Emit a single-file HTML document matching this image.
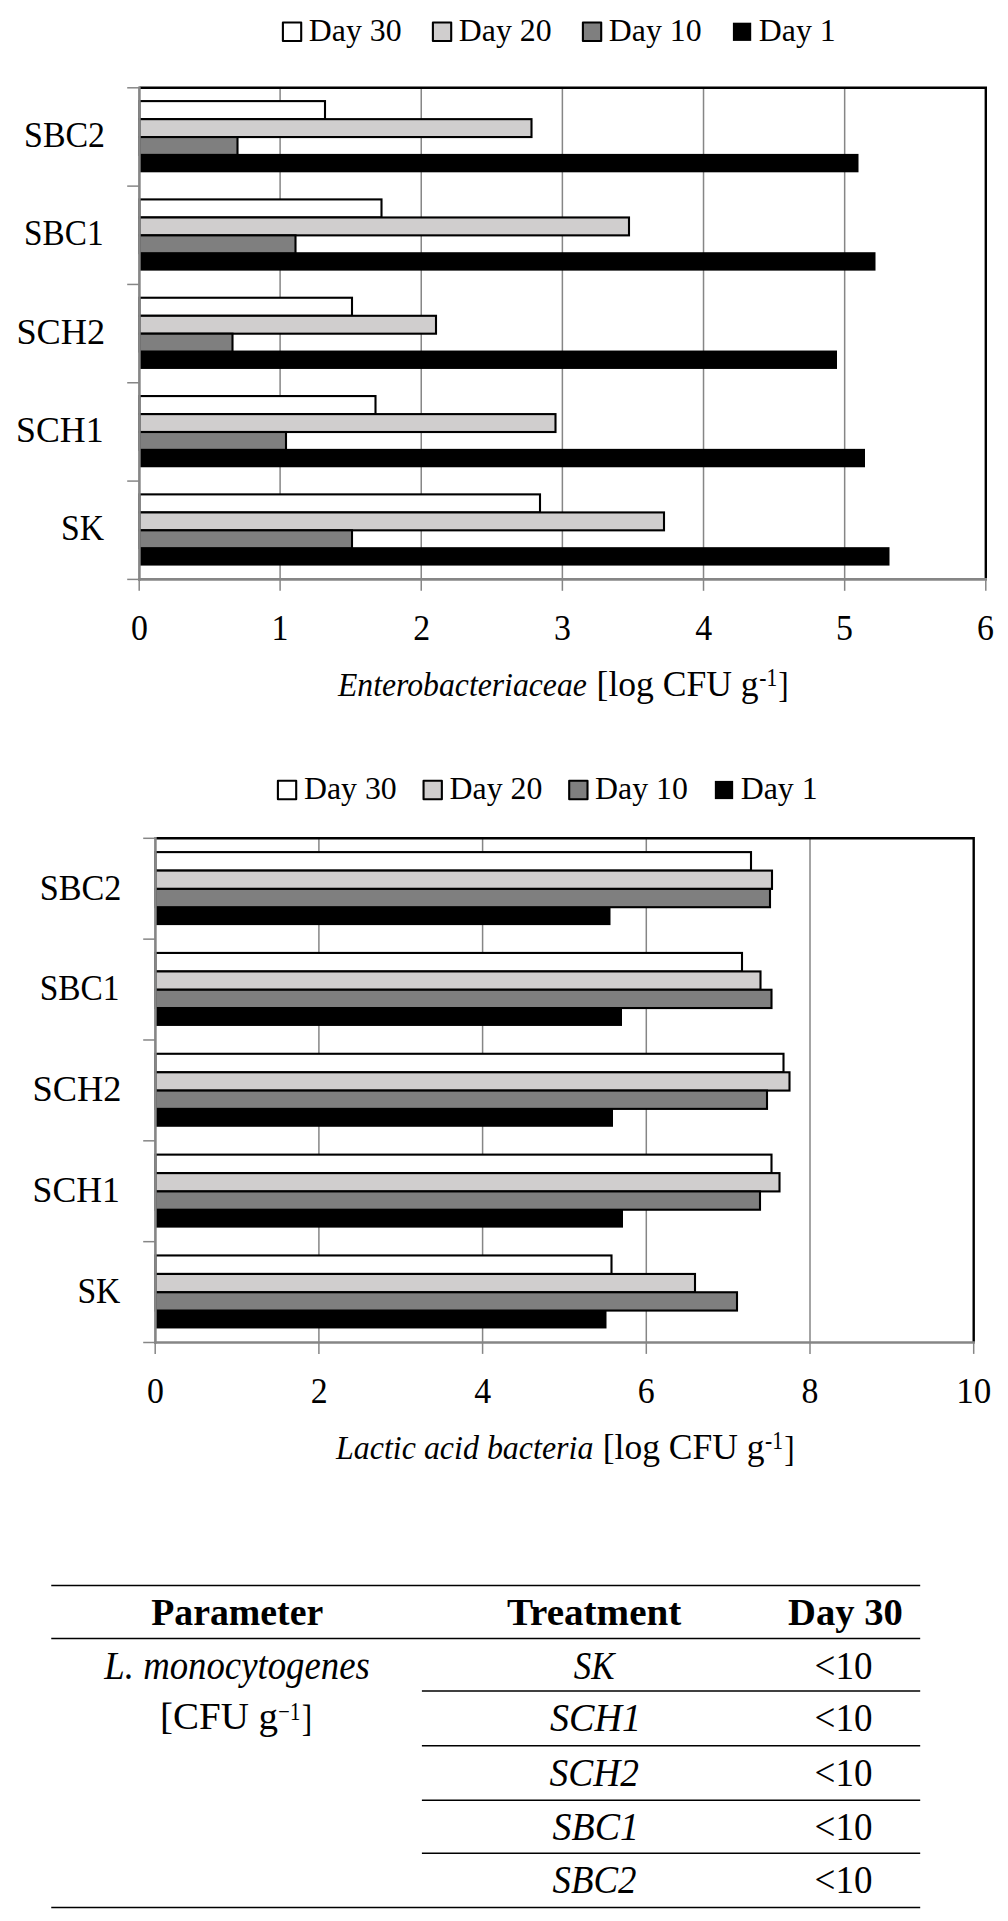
<!DOCTYPE html>
<html><head><meta charset="utf-8"><title>Figure</title>
<style>
html,body{margin:0;padding:0;background:#fff}
svg{display:block}
text{font-family:"Liberation Serif",serif;fill:#000}
</style></head>
<body>
<svg width="1008" height="1921" viewBox="0 0 1008 1921">
<rect width="1008" height="1921" fill="#fff"/>
<line x1="280.10" y1="87.80" x2="280.10" y2="579.40" stroke="#868686" stroke-width="1.5"/>
<line x1="421.24" y1="87.80" x2="421.24" y2="579.40" stroke="#868686" stroke-width="1.5"/>
<line x1="562.38" y1="87.80" x2="562.38" y2="579.40" stroke="#868686" stroke-width="1.5"/>
<line x1="703.52" y1="87.80" x2="703.52" y2="579.40" stroke="#868686" stroke-width="1.5"/>
<line x1="844.66" y1="87.80" x2="844.66" y2="579.40" stroke="#868686" stroke-width="1.5"/>
<rect x="139.40" y="153.90" width="719.10" height="18.40" fill="#000"/>
<rect x="139.40" y="101.10" width="185.60" height="18.05" fill="#fff" stroke="#000" stroke-width="2.1"/>
<rect x="139.40" y="119.15" width="392.10" height="17.90" fill="#d0cece" stroke="#000" stroke-width="2.1"/>
<rect x="139.40" y="137.05" width="98.10" height="17.85" fill="#7f7f7f" stroke="#000" stroke-width="2.1"/>
<rect x="139.40" y="252.22" width="736.10" height="18.40" fill="#000"/>
<rect x="139.40" y="199.42" width="242.10" height="18.05" fill="#fff" stroke="#000" stroke-width="2.1"/>
<rect x="139.40" y="217.47" width="489.60" height="17.90" fill="#d0cece" stroke="#000" stroke-width="2.1"/>
<rect x="139.40" y="235.37" width="156.10" height="17.85" fill="#7f7f7f" stroke="#000" stroke-width="2.1"/>
<rect x="139.40" y="350.54" width="697.60" height="18.40" fill="#000"/>
<rect x="139.40" y="297.74" width="212.60" height="18.05" fill="#fff" stroke="#000" stroke-width="2.1"/>
<rect x="139.40" y="315.79" width="296.60" height="17.90" fill="#d0cece" stroke="#000" stroke-width="2.1"/>
<rect x="139.40" y="333.69" width="93.10" height="17.85" fill="#7f7f7f" stroke="#000" stroke-width="2.1"/>
<rect x="139.40" y="448.86" width="725.60" height="18.40" fill="#000"/>
<rect x="139.40" y="396.06" width="236.10" height="18.05" fill="#fff" stroke="#000" stroke-width="2.1"/>
<rect x="139.40" y="414.11" width="416.10" height="17.90" fill="#d0cece" stroke="#000" stroke-width="2.1"/>
<rect x="139.40" y="432.01" width="146.60" height="17.85" fill="#7f7f7f" stroke="#000" stroke-width="2.1"/>
<rect x="139.40" y="547.18" width="750.10" height="18.40" fill="#000"/>
<rect x="139.40" y="494.38" width="400.60" height="18.05" fill="#fff" stroke="#000" stroke-width="2.1"/>
<rect x="139.40" y="512.43" width="524.60" height="17.90" fill="#d0cece" stroke="#000" stroke-width="2.1"/>
<rect x="139.40" y="530.33" width="212.60" height="17.85" fill="#7f7f7f" stroke="#000" stroke-width="2.1"/>
<path d="M139.40,87.80 H985.80 V579.40" fill="none" stroke="#000" stroke-width="2.4"/>
<line x1="139.40" y1="86.60" x2="139.40" y2="580.70" stroke="#868686" stroke-width="2.6"/>
<line x1="138.10" y1="579.40" x2="987.00" y2="579.40" stroke="#868686" stroke-width="2.7"/>
<line x1="127.20" y1="87.80" x2="139.40" y2="87.80" stroke="#868686" stroke-width="1.5"/>
<line x1="127.20" y1="186.12" x2="139.40" y2="186.12" stroke="#868686" stroke-width="1.5"/>
<line x1="127.20" y1="284.44" x2="139.40" y2="284.44" stroke="#868686" stroke-width="1.5"/>
<line x1="127.20" y1="382.76" x2="139.40" y2="382.76" stroke="#868686" stroke-width="1.5"/>
<line x1="127.20" y1="481.08" x2="139.40" y2="481.08" stroke="#868686" stroke-width="1.5"/>
<line x1="127.20" y1="579.40" x2="139.40" y2="579.40" stroke="#868686" stroke-width="1.5"/>
<line x1="139.20" y1="579.40" x2="139.20" y2="590.80" stroke="#868686" stroke-width="1.5"/>
<line x1="280.10" y1="579.40" x2="280.10" y2="590.80" stroke="#868686" stroke-width="1.5"/>
<line x1="421.24" y1="579.40" x2="421.24" y2="590.80" stroke="#868686" stroke-width="1.5"/>
<line x1="562.38" y1="579.40" x2="562.38" y2="590.80" stroke="#868686" stroke-width="1.5"/>
<line x1="703.52" y1="579.40" x2="703.52" y2="590.80" stroke="#868686" stroke-width="1.5"/>
<line x1="844.66" y1="579.40" x2="844.66" y2="590.80" stroke="#868686" stroke-width="1.5"/>
<line x1="985.80" y1="579.40" x2="985.80" y2="590.80" stroke="#868686" stroke-width="1.5"/>
<line x1="318.90" y1="838.30" x2="318.90" y2="1342.50" stroke="#868686" stroke-width="1.5"/>
<line x1="482.60" y1="838.30" x2="482.60" y2="1342.50" stroke="#868686" stroke-width="1.5"/>
<line x1="646.30" y1="838.30" x2="646.30" y2="1342.50" stroke="#868686" stroke-width="1.5"/>
<line x1="810.00" y1="838.30" x2="810.00" y2="1342.50" stroke="#868686" stroke-width="1.5"/>
<rect x="155.40" y="906.20" width="455.10" height="18.90" fill="#000"/>
<rect x="155.40" y="852.10" width="595.60" height="18.50" fill="#fff" stroke="#000" stroke-width="2.1"/>
<rect x="155.40" y="870.60" width="616.60" height="18.30" fill="#d0cece" stroke="#000" stroke-width="2.1"/>
<rect x="155.40" y="888.90" width="614.60" height="18.30" fill="#7f7f7f" stroke="#000" stroke-width="2.1"/>
<rect x="155.40" y="1007.04" width="466.60" height="18.90" fill="#000"/>
<rect x="155.40" y="952.94" width="586.60" height="18.50" fill="#fff" stroke="#000" stroke-width="2.1"/>
<rect x="155.40" y="971.44" width="605.10" height="18.30" fill="#d0cece" stroke="#000" stroke-width="2.1"/>
<rect x="155.40" y="989.74" width="616.10" height="18.30" fill="#7f7f7f" stroke="#000" stroke-width="2.1"/>
<rect x="155.40" y="1107.88" width="457.60" height="18.90" fill="#000"/>
<rect x="155.40" y="1053.78" width="628.10" height="18.50" fill="#fff" stroke="#000" stroke-width="2.1"/>
<rect x="155.40" y="1072.28" width="634.10" height="18.30" fill="#d0cece" stroke="#000" stroke-width="2.1"/>
<rect x="155.40" y="1090.58" width="611.60" height="18.30" fill="#7f7f7f" stroke="#000" stroke-width="2.1"/>
<rect x="155.40" y="1208.72" width="467.60" height="18.90" fill="#000"/>
<rect x="155.40" y="1154.62" width="616.10" height="18.50" fill="#fff" stroke="#000" stroke-width="2.1"/>
<rect x="155.40" y="1173.12" width="624.10" height="18.30" fill="#d0cece" stroke="#000" stroke-width="2.1"/>
<rect x="155.40" y="1191.42" width="604.60" height="18.30" fill="#7f7f7f" stroke="#000" stroke-width="2.1"/>
<rect x="155.40" y="1309.56" width="451.10" height="18.90" fill="#000"/>
<rect x="155.40" y="1255.46" width="456.10" height="18.50" fill="#fff" stroke="#000" stroke-width="2.1"/>
<rect x="155.40" y="1273.96" width="539.60" height="18.30" fill="#d0cece" stroke="#000" stroke-width="2.1"/>
<rect x="155.40" y="1292.26" width="581.60" height="18.30" fill="#7f7f7f" stroke="#000" stroke-width="2.1"/>
<path d="M155.40,838.30 H973.70 V1342.50" fill="none" stroke="#000" stroke-width="2.4"/>
<line x1="155.40" y1="837.10" x2="155.40" y2="1343.80" stroke="#868686" stroke-width="2.6"/>
<line x1="154.10" y1="1342.50" x2="974.90" y2="1342.50" stroke="#868686" stroke-width="2.7"/>
<line x1="143.20" y1="838.30" x2="155.40" y2="838.30" stroke="#868686" stroke-width="1.5"/>
<line x1="143.20" y1="939.14" x2="155.40" y2="939.14" stroke="#868686" stroke-width="1.5"/>
<line x1="143.20" y1="1039.98" x2="155.40" y2="1039.98" stroke="#868686" stroke-width="1.5"/>
<line x1="143.20" y1="1140.82" x2="155.40" y2="1140.82" stroke="#868686" stroke-width="1.5"/>
<line x1="143.20" y1="1241.66" x2="155.40" y2="1241.66" stroke="#868686" stroke-width="1.5"/>
<line x1="143.20" y1="1342.50" x2="155.40" y2="1342.50" stroke="#868686" stroke-width="1.5"/>
<line x1="155.20" y1="1342.50" x2="155.20" y2="1353.90" stroke="#868686" stroke-width="1.5"/>
<line x1="318.90" y1="1342.50" x2="318.90" y2="1353.90" stroke="#868686" stroke-width="1.5"/>
<line x1="482.60" y1="1342.50" x2="482.60" y2="1353.90" stroke="#868686" stroke-width="1.5"/>
<line x1="646.30" y1="1342.50" x2="646.30" y2="1353.90" stroke="#868686" stroke-width="1.5"/>
<line x1="810.00" y1="1342.50" x2="810.00" y2="1353.90" stroke="#868686" stroke-width="1.5"/>
<line x1="973.70" y1="1342.50" x2="973.70" y2="1353.90" stroke="#868686" stroke-width="1.5"/>
<rect x="282.90" y="22.50" width="18.3" height="18.5" fill="#fff" stroke="#000" stroke-width="2.1" stroke-linejoin="round"/>
<rect x="432.90" y="22.50" width="18.3" height="18.5" fill="#d0cece" stroke="#000" stroke-width="2.1" stroke-linejoin="round"/>
<rect x="582.90" y="22.50" width="18.3" height="18.5" fill="#7f7f7f" stroke="#000" stroke-width="2.1" stroke-linejoin="round"/>
<rect x="732.90" y="22.70" width="18.3" height="18.2" fill="#000"/>
<rect x="277.90" y="780.70" width="18.3" height="18.5" fill="#fff" stroke="#000" stroke-width="2.1" stroke-linejoin="round"/>
<rect x="423.55" y="780.70" width="18.3" height="18.5" fill="#d0cece" stroke="#000" stroke-width="2.1" stroke-linejoin="round"/>
<rect x="569.20" y="780.70" width="18.3" height="18.5" fill="#7f7f7f" stroke="#000" stroke-width="2.1" stroke-linejoin="round"/>
<rect x="714.85" y="780.90" width="18.3" height="18.2" fill="#000"/>
<line x1="51.25" y1="1585.4" x2="920.2" y2="1585.4" stroke="#000" stroke-width="1.5"/>
<line x1="51.25" y1="1638.4" x2="920.2" y2="1638.4" stroke="#000" stroke-width="1.5"/>
<line x1="421.9" y1="1691.0" x2="920.2" y2="1691.0" stroke="#000" stroke-width="1.5"/>
<line x1="421.9" y1="1745.7" x2="920.2" y2="1745.7" stroke="#000" stroke-width="1.5"/>
<line x1="421.9" y1="1800.2" x2="920.2" y2="1800.2" stroke="#000" stroke-width="1.5"/>
<line x1="421.9" y1="1853.2" x2="920.2" y2="1853.2" stroke="#000" stroke-width="1.5"/>
<line x1="51.25" y1="1907.5" x2="920.2" y2="1907.5" stroke="#000" stroke-width="1.5"/>
<text transform="translate(308.80,40.90) scale(1.0148,1)" font-size="31.39">Day 30</text>
<text transform="translate(458.80,40.90) scale(1.0148,1)" font-size="31.39">Day 20</text>
<text transform="translate(608.80,40.90) scale(1.0148,1)" font-size="31.39">Day 10</text>
<text transform="translate(758.80,40.90) scale(1.0152,1)" font-size="31.39">Day 1</text>
<text transform="translate(24.08,147.10) scale(0.9306,1)" font-size="36.42">SBC2</text>
<text transform="translate(24.12,245.42) scale(0.9126,1)" font-size="36.42">SBC1</text>
<text transform="translate(16.43,343.74) scale(0.9968,1)" font-size="36.42">SCH2</text>
<text transform="translate(16.06,442.06) scale(0.9827,1)" font-size="36.42">SCH1</text>
<text transform="translate(61.10,540.38) scale(0.9240,1)" font-size="36.42">SK</text>
<text transform="translate(130.93,639.80) scale(0.9300,1)" font-size="36.42">0</text>
<text transform="translate(271.47,639.80) scale(0.9300,1)" font-size="36.42">1</text>
<text transform="translate(413.34,639.80) scale(0.9300,1)" font-size="36.42">2</text>
<text transform="translate(553.88,639.80) scale(0.9300,1)" font-size="36.42">3</text>
<text transform="translate(695.21,639.80) scale(0.9300,1)" font-size="36.42">4</text>
<text transform="translate(836.02,639.80) scale(0.9300,1)" font-size="36.42">5</text>
<text transform="translate(977.09,639.80) scale(0.9300,1)" font-size="36.42">6</text>
<text transform="translate(338.00,695.50) scale(0.9265,1)" font-size="34.23" font-style="italic">Enterobacteriaceae</text>
<text transform="translate(596.53,695.50) scale(0.9771,1)" font-size="36.42">[log CFU g</text>
<text transform="translate(759.23,685.70) scale(0.8856,1)" font-size="24.38">-1</text>
<text transform="translate(778.33,696.90) scale(0.8552,1)" font-size="36.42">]</text>
<text transform="translate(303.90,799.00) scale(1.0148,1)" font-size="31.39">Day 30</text>
<text transform="translate(449.50,799.00) scale(1.0148,1)" font-size="31.39">Day 20</text>
<text transform="translate(595.10,799.00) scale(1.0148,1)" font-size="31.39">Day 10</text>
<text transform="translate(740.70,799.00) scale(1.0152,1)" font-size="31.39">Day 1</text>
<text transform="translate(39.66,899.50) scale(0.9390,1)" font-size="36.42">SBC2</text>
<text transform="translate(39.71,1000.30) scale(0.9174,1)" font-size="36.42">SBC1</text>
<text transform="translate(32.53,1101.10) scale(0.9991,1)" font-size="36.42">SCH2</text>
<text transform="translate(32.57,1201.90) scale(0.9803,1)" font-size="36.42">SCH1</text>
<text transform="translate(77.40,1302.70) scale(0.9240,1)" font-size="36.42">SK</text>
<text transform="translate(146.93,1402.80) scale(0.9300,1)" font-size="36.42">0</text>
<text transform="translate(310.86,1402.80) scale(0.9300,1)" font-size="36.42">2</text>
<text transform="translate(474.25,1402.80) scale(0.9300,1)" font-size="36.42">4</text>
<text transform="translate(637.65,1402.80) scale(0.9300,1)" font-size="36.42">6</text>
<text transform="translate(801.57,1402.80) scale(0.9300,1)" font-size="36.42">8</text>
<text transform="translate(956.26,1402.80) scale(0.9634,1)" font-size="36.42">10</text>
<text transform="translate(336.00,1459.25) scale(0.9340,1)" font-size="34.23" font-style="italic">Lactic acid bacteria</text>
<text transform="translate(602.78,1459.25) scale(0.9743,1)" font-size="36.42">[log CFU g</text>
<text transform="translate(765.03,1449.45) scale(0.8856,1)" font-size="24.38">-1</text>
<text transform="translate(784.13,1460.65) scale(0.8552,1)" font-size="36.42">]</text>
<text transform="translate(151.16,1625.30) scale(0.9923,1)" font-size="38.10" font-weight="bold">Parameter</text>
<text transform="translate(506.89,1625.30) scale(1.0261,1)" font-size="38.10" font-weight="bold">Treatment</text>
<text transform="translate(788.00,1625.30) scale(1.0140,1)" font-size="38.10" font-weight="bold">Day 30</text>
<text transform="translate(104.32,1678.75) scale(0.9281,1)" font-size="39.62" font-style="italic">L. monocytogenes</text>
<text transform="translate(160.06,1729.00) scale(1.0232,1)" font-size="38.10">[CFU g</text>
<text transform="translate(278.23,1720.00) scale(0.8497,1)" font-size="24.38">−1</text>
<text transform="translate(301.83,1730.60) scale(0.8176,1)" font-size="38.10">]</text>
<text transform="translate(573.75,1678.75) scale(0.8735,1)" font-size="39.92" font-style="italic">SK</text>
<text transform="translate(814.56,1678.75) scale(0.9272,1)" font-size="39.92">&lt;10</text>
<text transform="translate(550.00,1731.20) scale(0.9548,1)" font-size="39.92" font-style="italic">SCH1</text>
<text transform="translate(814.56,1731.20) scale(0.9272,1)" font-size="39.92">&lt;10</text>
<text transform="translate(549.60,1785.80) scale(0.9360,1)" font-size="39.92" font-style="italic">SCH2</text>
<text transform="translate(814.56,1785.80) scale(0.9272,1)" font-size="39.92">&lt;10</text>
<text transform="translate(552.60,1840.30) scale(0.9496,1)" font-size="39.92" font-style="italic">SBC1</text>
<text transform="translate(814.56,1840.30) scale(0.9272,1)" font-size="39.92">&lt;10</text>
<text transform="translate(552.60,1893.30) scale(0.9234,1)" font-size="39.92" font-style="italic">SBC2</text>
<text transform="translate(814.56,1893.30) scale(0.9272,1)" font-size="39.92">&lt;10</text>
</svg>
</body></html>
